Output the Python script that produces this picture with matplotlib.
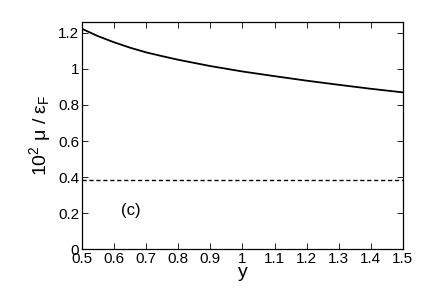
import matplotlib

matplotlib.use("Agg")

import matplotlib.pyplot as plt

# chemical potential vs y
y_vals = [0.5, 0.55, 0.6, 0.65, 0.7, 0.75, 0.8, 0.9, 1.0, 1.1, 1.2, 1.3, 1.4, 1.5]
mu_vals = [1.223, 1.182, 1.148, 1.118, 1.092, 1.071, 1.051, 1.016, 0.986, 0.960, 0.935, 0.912, 0.890, 0.870]
mu_const = 0.384

x_ticks = [0.5, 0.6, 0.7, 0.8, 0.9, 1.0, 1.1, 1.2, 1.3, 1.4, 1.5]
x_labels = ["0.5", "0.6", "0.7", "0.8", "0.9", "1", "1.1", "1.2", "1.3", "1.4", "1.5"]
y_ticks = [0, 0.2, 0.4, 0.6, 0.8, 1.0, 1.2]
y_labels = ["0", "0.2", "0.4", "0.6", "0.8", "1", "1.2"]

plt.rcParams["font.family"] = ["Liberation Sans", "DejaVu Sans"]
plt.rcParams["mathtext.fontset"] = "custom"
plt.rcParams["mathtext.rm"] = "Liberation Sans"
plt.rcParams["mathtext.it"] = "Liberation Sans"

fig = plt.figure(figsize=(4.36, 2.91), dpi=100)
ax = fig.add_axes([0.188, 0.144, 0.736, 0.780])

ax.plot(y_vals, mu_vals, color="black", lw=1.3)
ax.plot([0.5, 1.5], [mu_const, mu_const], color="black", lw=1.0, ls=(0, (3, 2)))

ax.set_xlim(0.5, 1.5)
ax.set_ylim(0, 1.26)
ax.set_xticks(x_ticks)
ax.set_xticklabels(x_labels)
ax.set_yticks(y_ticks)
ax.set_yticklabels(y_labels)
ax.tick_params(direction="in", top=True, right=True, labelsize=11, length=4, width=0.6, pad=2)
for s in ax.spines.values():
    s.set_linewidth(0.9)

ax.set_xlabel("y", fontsize=14, labelpad=-1)
ax.set_ylabel("10$^2$ μ / ε$_\\mathrm{F}$", fontsize=14, labelpad=4)
ax.text(0.653, 0.215, "(c)", fontsize=12, ha="center", va="center")

fig.savefig("out.png", dpi=100)
